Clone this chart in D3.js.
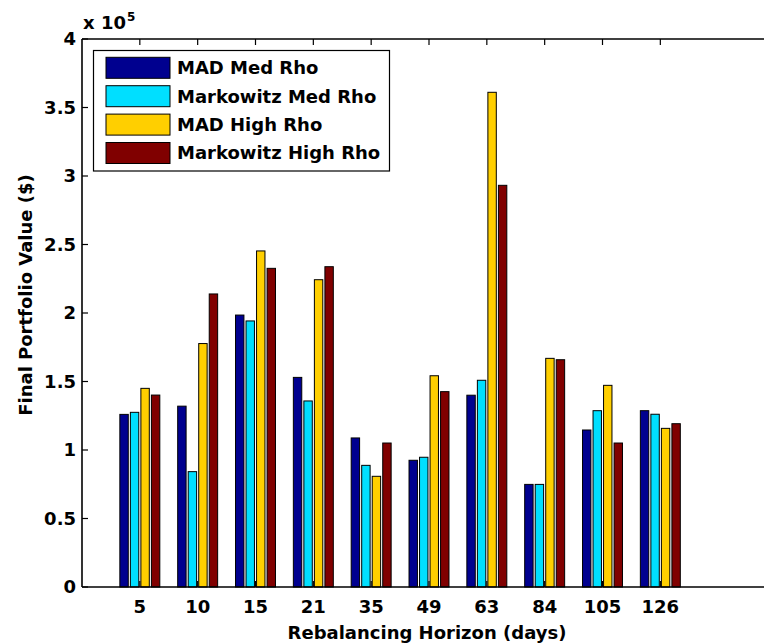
<!DOCTYPE html>
<html>
<head>
<meta charset="utf-8">
<script src="https://cdn.jsdelivr.net/npm/d3@7"></script>
<style>
  html, body { margin: 0; padding: 0; background: #fff; }
  svg { display: block; }
  text { font-family: "DejaVu Sans", sans-serif; font-weight: bold; fill: #000; }
</style>
</head>
<body>
<svg id="chart" width="764" height="643"></svg>
<script>
// Rebalancing horizons (days) on the x axis
const horizons = ["5", "10", "15", "21", "35", "49", "63", "84", "105", "126"];

// Final portfolio values, in units of 1e5 dollars
const madMedRho       = [1.26, 1.32, 1.985, 1.53, 1.088, 0.925, 1.40, 0.749, 1.146, 1.287];
const markowitzMedRho = [1.275, 0.842, 1.942, 1.358, 0.888, 0.947, 1.509, 0.749, 1.287, 1.261];
const madHighRho      = [1.45, 1.777, 2.453, 2.243, 0.808, 1.542, 3.611, 1.669, 1.472, 1.158];
const markowitzHighRho= [1.401, 2.139, 2.326, 2.338, 1.051, 1.426, 2.932, 1.659, 1.051, 1.192];

const seriesNames = ["MAD Med Rho", "Markowitz Med Rho", "MAD High Rho", "Markowitz High Rho"];
const seriesColors = ["#00008F", "#00DFFF", "#FFCF00", "#800000"];
const yTicks = [0, 0.5, 1, 1.5, 2, 2.5, 3, 3.5, 4];
const yTickLabels = ["0", "0.5", "1", "1.5", "2", "2.5", "3", "3.5", "4"];

const series = [madMedRho, markowitzMedRho, madHighRho, markowitzHighRho];

const svg = d3.select("#chart");
const plotLeft = 82, plotRight = 776, plotTop = 39, plotBottom = 587;

const x = d3.scaleLinear().domain([0, 12]).range([plotLeft, plotRight]);
const y = d3.scaleLinear().domain([0, 4]).range([plotBottom, plotTop]);

// grouped bar geometry (four bars per group)
const nSeries = series.length;
const groupWidth = Math.min(0.8, nSeries / (nSeries + 1.5));
const slot = groupWidth / nSeries;
const barW = 0.8 * slot;

// inward tick marks along the bottom (drawn beneath the bars)
const positions = horizons.map((_, i) => i + 1);
svg.append("g").selectAll("line").data(positions).join("line")
  .attr("x1", d => x(d)).attr("x2", d => x(d))
  .attr("y1", plotBottom).attr("y2", plotBottom - 6)
  .attr("stroke", "#000").attr("stroke-width", 1.2);

// bars
const barsG = svg.append("g");
series.forEach((vals, s) => {
  const off = (s - (nSeries - 1) / 2) * slot;
  barsG.append("g").selectAll("rect").data(vals).join("rect")
    .attr("x", (d, i) => x(i + 1 + off - barW / 2))
    .attr("width", x(barW) - x(0))
    .attr("y", d => y(d))
    .attr("height", d => y(0) - y(d))
    .attr("fill", seriesColors[s])
    .attr("stroke", "#000")
    .attr("stroke-width", 1);
});

// axes frame
const axisG = svg.append("g");
axisG.append("line").attr("x1", plotLeft).attr("x2", plotRight).attr("y1", plotBottom).attr("y2", plotBottom)
  .attr("stroke", "#000").attr("stroke-width", 1.6);
axisG.append("line").attr("x1", plotLeft).attr("x2", plotRight).attr("y1", plotTop).attr("y2", plotTop)
  .attr("stroke", "#000").attr("stroke-width", 1.6);
axisG.append("line").attr("x1", plotLeft).attr("x2", plotLeft).attr("y1", plotTop).attr("y2", plotBottom)
  .attr("stroke", "#000").attr("stroke-width", 1.6);

// top inward ticks
axisG.append("g").selectAll("line").data(positions).join("line")
  .attr("x1", d => x(d)).attr("x2", d => x(d))
  .attr("y1", plotTop).attr("y2", plotTop + 6)
  .attr("stroke", "#000").attr("stroke-width", 1.2);

// left inward ticks
axisG.append("g").selectAll("line").data(yTicks).join("line")
  .attr("x1", plotLeft).attr("x2", plotLeft + 6)
  .attr("y1", d => y(d)).attr("y2", d => y(d))
  .attr("stroke", "#000").attr("stroke-width", 1.2);

// y tick labels
axisG.append("g").selectAll("text").data(yTicks).join("text")
  .attr("x", plotLeft - 6).attr("y", d => y(d))
  .attr("dy", "0.36em")
  .attr("text-anchor", "end")
  .attr("font-size", 18)
  .text((d, i) => yTickLabels[i]);

// x tick labels
axisG.append("g").selectAll("text").data(horizons).join("text")
  .attr("x", (d, i) => x(i + 1)).attr("y", 613)
  .attr("text-anchor", "middle")
  .attr("font-size", 18)
  .text(d => d);

// exponent label
const expo = svg.append("text").attr("x", 83).attr("y", 29).attr("font-size", 18);
expo.append("tspan").text("x 10");
expo.append("tspan").attr("font-size", 12).attr("dy", -8).attr("dx", 1).text("5");

// axis titles
svg.append("text")
  .attr("x", (plotLeft + plotRight) / 2 - 2).attr("y", 639)
  .attr("text-anchor", "middle").attr("font-size", 18)
  .text("Rebalancing Horizon (days)");
svg.append("text")
  .attr("transform", "translate(32, 295) rotate(-90)")
  .attr("text-anchor", "middle").attr("font-size", 18)
  .text("Final Portfolio Value ($)");

// legend
const leg = svg.append("g");
leg.append("rect").attr("x", 93.5).attr("y", 50.5).attr("width", 296).attr("height", 120.5)
  .attr("fill", "#fff").attr("stroke", "#000").attr("stroke-width", 1.2);
seriesNames.forEach((name, i) => {
  const cy = 67.8 + i * 28.4;
  leg.append("rect").attr("x", 106).attr("y", cy - 10.5).attr("width", 64).attr("height", 21)
    .attr("fill", seriesColors[i]).attr("stroke", "#000").attr("stroke-width", 1);
  leg.append("text").attr("x", 177).attr("y", cy).attr("dy", "0.36em")
    .attr("font-size", 18).text(name);
});
</script>
</body>
</html>
